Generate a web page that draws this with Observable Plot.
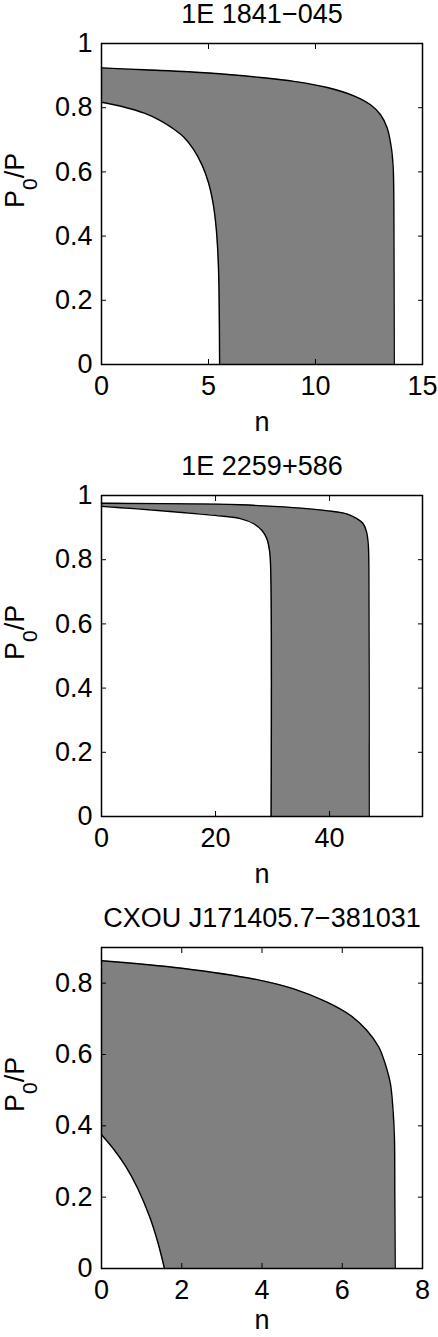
<!DOCTYPE html>
<html>
<head>
<meta charset="utf-8">
<script src="https://cdn.jsdelivr.net/npm/d3@7"></script>
<script src="https://cdn.jsdelivr.net/npm/@observablehq/plot@0.6"></script>
<style>
  body { margin: 0; background: #fff; }
  #chart { width: 438px; }
  #chart svg { display: block; }
</style>
</head>
<body>
<div id="chart"></div>
<script>
// ---- titles & axis labels ----
const titles = ["1E 1841\u2212045", "1E 2259+586", "CXOU J171405.7\u2212381031"];
const xLabel = "n";
const yLabel = "P0/P";

// ---- tick values ----
const xTicks1 = [0, 5, 10, 15];
const xTicks2 = [0, 20, 40];
const xTicks3 = [0, 2, 4, 6, 8];
const yTicks1 = [0, 0.2, 0.4, 0.6, 0.8, 1];
const yTicks2 = [0, 0.2, 0.4, 0.6, 0.8, 1];
const yTicks3 = [0, 0.2, 0.4, 0.6, 0.8];

// ---- axis extents ----
const xDomain1 = [0, 15], yDomain1 = [0, 1];
const xDomain2 = [0, 56.3], yDomain2 = [0, 1];
const xDomain3 = [0, 8], yDomain3 = [0, 0.9];

// ---- panel 1: 1E 1841-045 ----
const p1UpperN = [0, 2, 5, 7.43, 8.99, 10.55, 11.79, 12.57, 13.04, 13.35, 13.54, 13.63, 13.66, 13.67, 13.68];
const p1UpperY = [0.924, 0.918, 0.908, 0.894, 0.882, 0.863, 0.837, 0.809, 0.778, 0.737, 0.677, 0.614, 0.511, 0.3, 0];
const p1LowerN = [0, 1, 2, 2.75, 3.3, 3.85, 4.3, 4.7, 5.0, 5.22, 5.36, 5.44, 5.49, 5.52];
const p1LowerY = [0.817, 0.803, 0.783, 0.76, 0.737, 0.708, 0.67, 0.621, 0.566, 0.5, 0.425, 0.345, 0.241, 0];

// ---- panel 2: 1E 2259+586 ----
const p2UpperN = [0, 20, 24.35, 30.2, 36, 40.7, 43, 44.8, 45.9, 46.5, 46.8, 46.9, 46.95];
const p2UpperY = [0.976, 0.973, 0.971, 0.966, 0.959, 0.95, 0.943, 0.928, 0.912, 0.886, 0.845, 0.751, 0];
const p2LowerN = [0, 5.7, 11.5, 17.4, 21, 24.35, 26.7, 28.15, 29, 29.5, 29.7, 29.75];
const p2LowerY = [0.966, 0.959, 0.951, 0.942, 0.936, 0.928, 0.912, 0.891, 0.865, 0.824, 0.751, 0];

// ---- panel 3: CXOU J171405.7-381031 ----
const p3UpperN = [0, 2, 3.96, 4.79, 5.62, 6.2, 6.61, 6.91, 7.07, 7.2, 7.26, 7.3, 7.31, 7.32];
const p3UpperY = [0.863, 0.842, 0.808, 0.784, 0.747, 0.71, 0.668, 0.621, 0.574, 0.518, 0.453, 0.369, 0.2, 0];
const p3LowerN = [0, 0.3, 0.6, 0.9, 1.2, 1.4, 1.57];
const p3LowerY = [0.375, 0.335, 0.287, 0.225, 0.145, 0.075, 0];

const FONT = "'Liberation Sans', Arial, Helvetica, sans-serif";
const FS = 27;
const fmt = d => d3.format("~g")(d);
const zip = (ns, ys) => ns.map((n, i) => ({n, p: ys[i]}));
const CURVE = "catmull-rom";

function panel({title, upperN, upperY, lowerN, lowerY, xDomain, yDomain, xTicks, yTicks, height, marginBottom, nOffset}) {
  const upper = zip(upperN, upperY);
  const lower = zip(lowerN, lowerY);
  const svg = Plot.plot({
    width: 438,
    height,
    marginLeft: 101,
    marginRight: 16,
    marginTop: 43,
    marginBottom,
    style: {fontFamily: FONT, fontSize: FS + "px", background: "white", color: "black"},
    x: {domain: xDomain},
    y: {domain: yDomain},
    marks: [
      Plot.areaY(upper, {x: "n", y: "p", fill: "#808080", curve: CURVE}),
      Plot.areaY(lower, {x: "n", y: "p", fill: "white", curve: CURVE}),
      Plot.line(upper, {x: "n", y: "p", stroke: "black", strokeWidth: 1.4, curve: CURVE}),
      Plot.line(lower, {x: "n", y: "p", stroke: "black", strokeWidth: 1.4, curve: CURVE}),
      Plot.axisX({anchor: "bottom", ticks: xTicks, tickSize: -5, tickPadding: 16, tickFormat: fmt, label: null, fontSize: FS}),
      Plot.axisX({anchor: "top", ticks: xTicks, tickSize: -5, tickFormat: () => "", label: null}),
      Plot.axisY({anchor: "left", ticks: yTicks, tickSize: -5, tickPadding: 14, tickFormat: fmt, label: null, fontSize: FS}),
      Plot.axisY({anchor: "right", ticks: yTicks, tickSize: -5, tickFormat: () => "", label: null}),
      Plot.frame({stroke: "black", strokeWidth: 1.5}),
      Plot.text([title], {frameAnchor: "top", lineAnchor: "bottom", dy: -21, fontSize: FS}),
      Plot.text([xLabel], {frameAnchor: "bottom", lineAnchor: "bottom", dy: nOffset, fontSize: FS}),
      Plot.text([yLabel], {frameAnchor: "left", rotate: -90, dx: -86, dy: 4, fontSize: FS})
    ]
  });
  // subscript the 0 in P0/P
  const ns = "http://www.w3.org/2000/svg";
  svg.querySelectorAll("text").forEach(t => {
    if (t.textContent === yLabel) {
      t.textContent = "";
      const a = document.createElementNS(ns, "tspan"); a.textContent = "P";
      const b = document.createElementNS(ns, "tspan"); b.textContent = "0";
      b.setAttribute("dy", "13"); b.setAttribute("font-size", "21");
      const c = document.createElementNS(ns, "tspan"); c.textContent = "/P";
      c.setAttribute("dy", "-13");
      t.append(a, b, c);
    }
  });
  return svg;
}

const root = document.getElementById("chart");
root.append(
  panel({title: titles[0], upperN: p1UpperN, upperY: p1UpperY, lowerN: p1LowerN, lowerY: p1LowerY,
         xDomain: xDomain1, yDomain: yDomain1, xTicks: xTicks1, yTicks: yTicks1, height: 452, marginBottom: 88, nOffset: 66}),
  panel({title: titles[1], upperN: p2UpperN, upperY: p2UpperY, lowerN: p2LowerN, lowerY: p2LowerY,
         xDomain: xDomain2, yDomain: yDomain2, xTicks: xTicks2, yTicks: yTicks2, height: 452, marginBottom: 88, nOffset: 66}),
  panel({title: titles[2], upperN: p3UpperN, upperY: p3UpperY, lowerN: p3LowerN, lowerY: p3LowerY,
         xDomain: xDomain3, yDomain: yDomain3, xTicks: xTicks3, yTicks: yTicks3, height: 433, marginBottom: 69, nOffset: 60})
);
</script>
</body>
</html>
